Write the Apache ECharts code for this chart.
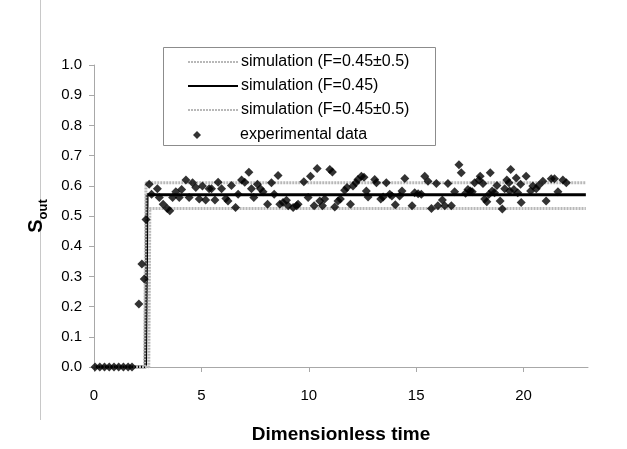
<!DOCTYPE html>
<html><head><meta charset="utf-8">
<script src="https://cdn.jsdelivr.net/npm/echarts@6/dist/echarts.min.js"></script>
<style>html,body{margin:0;padding:0;background:#fff}#c{width:627px;height:449px}</style>
</head><body><div id="c"></div>
<script>
// Simulation step curves [time, S_out]
const simUpper = [[0,0],[2.35,0],[2.42,0.61],[22.9,0.61]];
const simMid   = [[0,0],[2.4,0],[2.47,0.57],[22.9,0.57]];
const simLower = [[0,0],[2.55,0],[2.6,0.525],[22.9,0.525]];
// Experimental data
const expT = [0.05,0.27,0.49,0.71,0.93,1.15,1.37,1.59,1.77,
  2.09,2.23,2.34,2.42,2.57,2.68,2.95,3.04,3.22,3.41,3.53,3.66,3.81,3.97,4.08,4.28,4.43,4.59,4.74,4.9,5.05,5.2,5.36,5.47,5.63,5.78,5.94,6.14,6.24,6.4,6.59,6.71,6.87,7.02,7.21,7.33,7.44,7.61,7.75,7.87,8.08,8.26,8.39,8.57,
  8.65,8.8,8.96,9.04,9.27,9.43,9.5,9.77,9.97,10.08,10.25,10.39,10.51,10.64,10.74,10.98,11.1,11.21,11.36,11.47,11.67,11.78,11.94,12.06,12.19,12.29,12.45,12.57,12.68,12.76,13.07,13.15,13.35,13.46,13.61,13.77,13.87,14.03,14.23,14.34,14.47,14.81,14.93,15.09,15.24,15.4,15.55,15.71,15.94,16.01,16.22,16.33,16.48,16.64,16.79,16.99,17.1,17.3,17.41,17.52,17.61,17.72,17.92,17.98,18.11,18.19,18.29,18.39,18.45,18.54,18.65,18.76,18.91,19.01,19.12,19.22,19.32,19.35,19.4,19.55,19.66,19.73,19.86,19.89,20.12,20.33,20.43,20.59,20.7,20.9,21.05,21.29,21.44,21.6,21.83,21.99];
const expV = [0,0,0,0,0,0,0,0,0,
  0.209,0.341,0.291,0.488,0.605,0.572,0.59,0.561,0.539,0.525,0.517,0.561,0.58,0.561,0.588,0.619,0.561,0.61,0.594,0.556,0.599,0.553,0.59,0.59,0.553,0.612,0.59,0.558,0.55,0.601,0.528,0.572,0.619,0.612,0.645,0.59,0.561,0.605,0.59,0.58,0.539,0.61,0.572,0.634,
  0.539,0.545,0.552,0.534,0.528,0.534,0.539,0.613,0.561,0.632,0.534,0.657,0.55,0.534,0.556,0.654,0.646,0.53,0.55,0.556,0.585,0.594,0.539,0.599,0.61,0.621,0.632,0.628,0.583,0.563,0.621,0.61,0.556,0.563,0.61,0.572,0.566,0.537,0.566,0.583,0.624,0.534,0.577,0.574,0.572,0.632,0.615,0.525,0.608,0.534,0.553,0.534,0.608,0.534,0.58,0.67,0.643,0.575,0.588,0.583,0.58,0.61,0.619,0.632,0.608,0.556,0.547,0.572,0.643,0.583,0.577,0.601,0.55,0.523,0.59,0.619,0.61,0.583,0.654,0.588,0.626,0.577,0.605,0.545,0.632,0.583,0.599,0.59,0.601,0.615,0.55,0.623,0.623,0.58,0.619,0.61];
const xTicks = [0,5,10,15,20];
const yTicks = [0,0.1,0.2,0.3,0.4,0.5,0.6,0.7,0.8,0.9,1.0];
const names = ['simulation (F=0.45±0.5)','simulation (F=0.45)','simulation (F=0.45±0.5) ','experimental data'];

const FONT = '"Liberation Sans", Arial, sans-serif';
const chart = echarts.init(document.getElementById('c'), null, {renderer:'canvas'});
const grayLine = {color:'#b8b8b8', width:3, type:[2,1]};
chart.setOption({
  animation:false,
  backgroundColor:'#fff',
  textStyle:{fontFamily:FONT},
  grid:{left:94, top:65, right:39, bottom:78, containLabel:false},
  graphic:[
    {type:'line', shape:{x1:40.5,y1:0,x2:40.5,y2:420}, style:{stroke:'#c8c8c8', lineWidth:1}, silent:true},
    {type:'rect', shape:{x:163.5,y:47.5,width:272,height:98}, style:{fill:'#fff', stroke:'#8c8c8c', lineWidth:1}, z:5, silent:true}
  ],
  legend:[
    {data:names.slice(0,3), orient:'vertical', left:187, top:54, padding:0,
     itemWidth:50, itemHeight:8, itemGap:8, itemStyle:{opacity:0, borderWidth:0},
     textStyle:{fontFamily:FONT, fontSize:16, color:'#000', padding:[0,0,0,-2]}, z:10, selectedMode:false},
    {data:[{name:names[3], icon:'diamond'}], left:193, top:127, padding:0, itemWidth:8, itemHeight:8,
     textStyle:{fontFamily:FONT, fontSize:16, color:'#000', padding:[0,0,0,34]}, z:10, selectedMode:false}
  ],
  xAxis:{type:'value', min:0, max:23, interval:5,
    name:'Dimensionless time', nameLocation:'middle', nameGap:58,
    nameTextStyle:{fontFamily:FONT, fontSize:19, fontWeight:'bold', color:'#000'},
    axisLine:{lineStyle:{color:'#a8a8a8', width:1}},
    axisTick:{show:true, length:5, lineStyle:{color:'#a8a8a8'}, customValues:xTicks},
    axisLabel:{fontFamily:FONT, fontSize:15, color:'#000', margin:21, customValues:xTicks},
    splitLine:{show:false}},
  yAxis:{type:'value', min:0, max:1, interval:0.1,
    name:'{s|S}{o|out}', nameLocation:'middle', nameGap:26, nameRotate:90,
    nameTextStyle:{rich:{
      s:{fontFamily:FONT, fontSize:20, fontWeight:'bold', color:'#000', verticalAlign:'bottom', lineHeight:22},
      o:{fontFamily:FONT, fontSize:13, fontWeight:'bold', color:'#000', verticalAlign:'bottom', lineHeight:22, padding:[0,0,-4,0]}}},
    axisLine:{show:true, lineStyle:{color:'#a8a8a8', width:1}},
    axisTick:{show:true, length:5, lineStyle:{color:'#a8a8a8'}},
    axisLabel:{fontFamily:FONT, fontSize:15, color:'#000', margin:12, formatter:v=>v.toFixed(1)},
    splitLine:{show:false}},
  series:[
    {name:names[0], type:'line', data:simUpper, symbol:'none', lineStyle:grayLine, itemStyle:{color:'#b8b8b8'}, z:3},
    {name:names[1], type:'line', data:simMid, symbol:'none', lineStyle:{color:'#000', width:3}, itemStyle:{color:'#000'}, z:2},
    {name:names[2], type:'line', data:simLower, symbol:'none', lineStyle:grayLine, itemStyle:{color:'#b8b8b8'}, z:3},
    {name:names[3], type:'scatter', data:expT.map((t,i)=>[t,expV[i]]), symbol:'diamond', symbolSize:9, itemStyle:{color:'#000'}, z:4}
  ]
});
</script></body></html>
